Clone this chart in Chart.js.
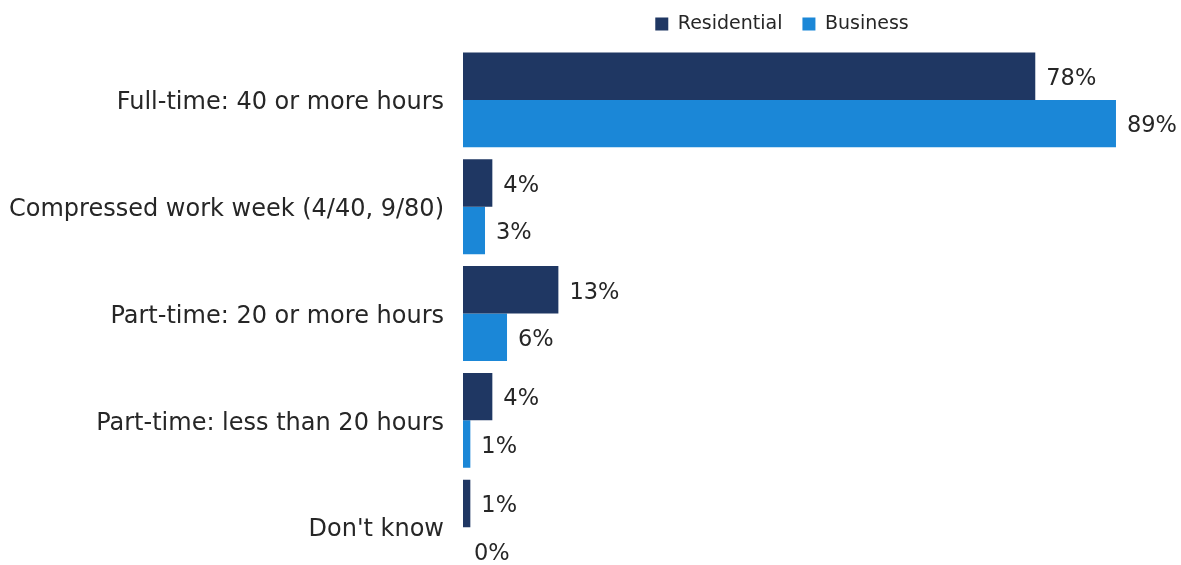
<!DOCTYPE html>
<html lang="en">
<head>
    <meta charset="UTF-8">
    <title>Work schedule</title>
    <style>
        html, body { margin: 0; padding: 0; background: #fff; overflow: hidden; }
    </style>
</head>
<body>
    <canvas id="myChart" width="1181" height="614"></canvas>

    <script src="https://cdn.jsdelivr.net/npm/chart.js"></script>
    <script>
        var categories = [
            'Full-time: 40 or more hours',
            'Compressed work week (4/40, 9/80)',
            'Part-time: 20 or more hours',
            'Part-time: less than 20 hours',
            "Don't know"
        ];
        var residential = [78, 4, 13, 4, 1];
        var business = [89, 3, 6, 1, 0];

        var textColor = '#262626';
        var catFont = { family: 'DejaVu Sans', size: 24 };
        var valueFont = { family: 'DejaVu Sans', size: 22.5 };

        // prints "NN%" just past the end of every bar
        var valueLabels = {
            id: 'valueLabels',
            afterDatasetsDraw: function(chart) {
                var ctx = chart.ctx;
                ctx.save();
                ctx.font = valueFont.size + 'px "' + valueFont.family + '"';
                ctx.fillStyle = textColor;
                ctx.textAlign = 'left';
                ctx.textBaseline = 'middle';
                chart.data.datasets.forEach(function(ds, i) {
                    chart.getDatasetMeta(i).data.forEach(function(bar, j) {
                        ctx.fillText(ds.data[j] + '%', bar.x + 11, bar.y + 3);
                    });
                });
                ctx.restore();
            }
        };

        // legend sits centred over the bars rather than the whole canvas
        var legendShift = {
            id: 'legendShift',
            afterLayout: function(chart) {
                var lg = chart.legend;
                var lbl = lg.options.labels;
                var dx = 782 - (lg.left + lg.right) / 2;
                var dy = 24 - (lg.top + lbl.padding + lbl.font.size / 2);
                lg.left += dx;
                lg.right += dx;
                lg.top += dy;
                lg.bottom += dy;
            }
        };

        const ctx = document.getElementById('myChart');
        const myChart = new Chart(ctx, {
            type: 'bar',
            data: {
                labels: categories,
                datasets: [{
                    label: 'Residential',
                    data: residential,
                    backgroundColor: '#1F3763',
                    categoryPercentage: 0.888,
                    barPercentage: 1
                }, {
                    label: 'Business',
                    data: business,
                    backgroundColor: '#1B87D7',
                    categoryPercentage: 0.888,
                    barPercentage: 1
                }]
            },
            options: {
                indexAxis: 'y',
                responsive: false,
                animation: false,
                layout: { padding: { top: 6.5, right: 21, bottom: 18.5, left: 0 } },
                scales: {
                    x: {
                        display: false,
                        min: 0,
                        max: 95
                    },
                    y: {
                        grid: { display: false, drawTicks: false },
                        border: { display: false },
                        ticks: {
                            color: textColor,
                            font: catFont,
                            padding: 19,
                            labelOffset: 3
                        },
                        afterFit: function(scale) { scale.width = 463; }
                    }
                },
                plugins: {
                    tooltip: { enabled: false },
                    legend: {
                        position: 'top',
                        maxHeight: 40,
                        labels: {
                            color: textColor,
                            font: { family: 'DejaVu Sans', size: 19 },
                            boxWidth: 13,
                            boxHeight: 13,
                            padding: 20
                        }
                    }
                }
            },
            plugins: [valueLabels, legendShift]
        });
    </script>
</body>
</html>
